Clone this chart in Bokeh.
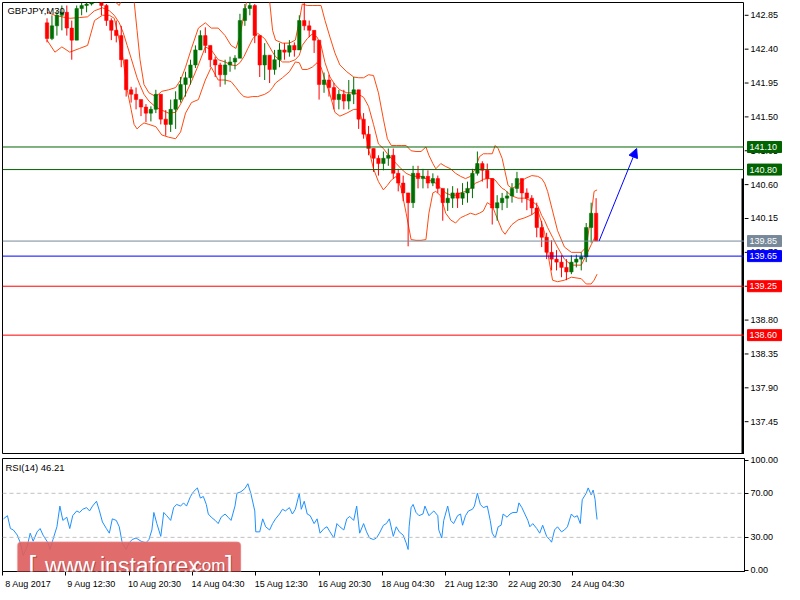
import numpy as np
from bokeh.plotting import figure
from bokeh.layouts import column, row
from bokeh.models import (Range1d, LinearAxis, FixedTicker, NumeralTickFormatter, Span,
                          Label, Arrow, NormalHead, BoxAnnotation, ColumnDataSource)
from bokeh.core.properties import value
from bokeh.embed import file_html
from bokeh.resources import INLINE

# ---------------- data ----------------
symbol_title = "GBPJPY,M30"
rsi_title = "RSI(14) 46.21"

candle_start = 45      # bar index of first visible candle
candle_step = 5        # bars per drawn candle
first_open = 142.75
closes = [142.54, 142.71, 142.85, 142.89, 142.68, 142.52, 142.94, 142.98, 143.00, 143.11,
          143.11, 142.98, 142.78, 142.65, 142.58, 142.26, 141.86, 141.80, 141.73, 141.63,
          141.55, 141.60, 141.80, 141.47, 141.40, 141.60, 141.73, 141.93, 142.02, 142.19,
          142.39, 142.58, 142.45, 142.26, 142.19, 142.06, 142.19, 142.23, 142.28, 142.78,
          142.94, 142.98, 142.58, 142.19, 142.32, 142.13, 142.26, 142.39, 142.36, 142.45,
          142.39, 142.78, 142.71, 142.65, 142.52, 141.93, 141.99, 141.89, 141.73, 141.80,
          141.71, 141.80, 141.86, 141.47, 141.27, 141.08, 140.95, 140.88, 140.95, 140.99,
          140.75, 140.62, 140.49, 140.36, 140.75, 140.68, 140.71, 140.62, 140.68, 140.55,
          140.36, 140.42, 140.49, 140.42, 140.49, 140.55, 140.75, 140.88, 140.79, 140.68,
          140.29, 140.36, 140.42, 140.45, 140.55, 140.68, 140.49, 140.42, 140.29, 140.03,
          139.90, 139.70, 139.61, 139.57, 139.50, 139.44, 139.57, 139.61, 139.64, 140.03,
          140.22, 139.85]
highs = [142.81, 142.85, 142.91, 142.98, 142.98, 142.78, 142.98, 143.02, 143.04, 143.17,
         143.24, 143.11, 143.00, 142.81, 142.78, 142.71, 142.26, 141.90, 141.89, 141.73,
         141.67, 141.64, 141.86, 141.76, 141.59, 141.73, 141.84, 142.03, 142.10, 142.26,
         142.45, 142.65, 142.69, 142.43, 142.30, 142.22, 142.26, 142.30, 142.32, 142.87,
         143.00, 143.07, 143.00, 142.52, 142.48, 142.30, 142.39, 142.48, 142.48, 142.52,
         142.49, 142.85, 143.02, 142.78, 142.65, 142.52, 142.09, 142.06, 141.95, 141.86,
         141.86, 141.99, 142.03, 141.73, 141.55, 141.38, 141.08, 140.99, 141.04, 141.08,
         141.08, 140.81, 140.72, 140.49, 140.85, 140.85, 140.81, 140.79, 140.75, 140.72,
         140.49, 140.55, 140.58, 140.55, 140.62, 140.64, 140.81, 141.04, 140.91, 140.88,
         140.64, 140.46, 140.49, 140.51, 140.62, 140.77, 140.64, 140.55, 140.46, 140.36,
         140.12, 139.96, 139.86, 139.73, 139.66, 139.61, 139.66, 139.67, 139.70, 140.09,
         140.36, 140.42]
lows = [142.49, 142.52, 142.58, 142.65, 142.58, 142.26, 142.52, 142.85, 142.89, 142.98,
        143.04, 142.85, 142.71, 142.52, 142.49, 142.16, 141.77, 141.69, 141.60, 141.51,
        141.43, 141.44, 141.55, 141.40, 141.25, 141.30, 141.34, 141.69, 141.77, 141.93,
        142.15, 142.39, 142.35, 142.16, 142.03, 141.90, 141.93, 142.10, 142.13, 142.28,
        142.71, 142.85, 142.48, 142.03, 141.99, 141.95, 142.06, 142.16, 142.26, 142.30,
        142.30, 142.39, 142.65, 142.56, 142.35, 141.73, 141.82, 141.77, 141.60, 141.60,
        141.60, 141.60, 141.67, 141.34, 141.21, 140.99, 140.77, 140.72, 140.79, 140.85,
        140.68, 140.51, 140.38, 139.78, 140.29, 140.55, 140.55, 140.55, 140.58, 140.49,
        140.12, 140.25, 140.29, 140.29, 140.33, 140.36, 140.42, 140.72, 140.64, 140.55,
        140.07, 140.12, 140.26, 140.29, 140.36, 140.49, 140.36, 140.26, 140.20, 139.90,
        139.77, 139.61, 139.46, 139.46, 139.37, 139.33, 139.41, 139.50, 139.46, 139.57,
        139.83, 139.86]

band_x = [45, 53, 60, 68, 78, 86, 93, 101, 108, 113,
          118, 122, 126, 130, 133, 136, 139, 143, 148, 155,
          161, 168, 175, 180, 185, 191, 198, 205, 211, 218,
          225, 231, 236, 240, 244, 248, 253, 258, 265, 270,
          273, 276, 283, 290, 296, 300, 303, 308, 313, 318,
          322, 326, 331, 336, 341, 348, 355, 360, 365, 370,
          375, 380, 385, 389, 393, 398, 403, 408, 413, 418,
          423, 428, 431, 435, 438, 443, 448, 453, 458, 463,
          468, 473, 478, 482, 486, 490, 495, 498, 501, 505,
          508, 511, 515, 521, 528, 535, 541, 545, 548, 551,
          556, 561, 568, 575, 585, 590, 595, 598, 601]
band_upper = [143.44, 143.44, 143.44, 143.44, 143.44, 143.37, 143.37, 143.30, 143.17, 143.04,
              142.98, 143.11, 143.24, 143.24, 143.04, 142.65, 142.26, 141.93, 141.82, 141.77,
              141.84, 141.86, 141.89, 141.99, 142.16, 142.41, 142.68, 142.75, 142.68, 142.68,
              142.58, 142.45, 142.41, 142.58, 142.85, 143.11, 143.24, 143.24, 143.17, 143.04,
              142.65, 142.52, 142.48, 142.48, 142.52, 142.78, 143.00, 142.98, 142.98, 142.98,
              142.98, 142.78, 142.56, 142.35, 142.19, 142.10, 142.03, 142.02, 142.02, 142.06,
              142.05, 141.82, 141.47, 141.21, 141.12, 141.12, 141.12, 141.12, 141.05, 141.04,
              141.04, 141.10, 140.99, 140.88, 140.81, 140.88, 140.84, 140.81, 140.75, 140.71,
              140.68, 140.71, 140.81, 140.97, 141.01, 141.01, 141.01, 141.12, 141.08, 140.95,
              140.77, 140.59, 140.55, 140.59, 140.68, 140.72, 140.71, 140.68, 140.62, 140.51,
              140.25, 139.99, 139.77, 139.70, 139.70, 139.77, 140.20, 140.51, 140.53]
band_middle = [142.89, 142.85, 142.83, 142.81, 142.82, 142.83, 142.91, 142.95, 142.91, 142.85,
               142.75, 142.62, 142.45, 142.28, 142.15, 142.02, 141.92, 141.80, 141.71, 141.63,
               141.59, 141.55, 141.56, 141.67, 141.80, 141.97, 142.19, 142.43, 142.39, 142.26,
               142.23, 142.19, 142.18, 142.22, 142.30, 142.41, 142.54, 142.61, 142.54, 142.43,
               142.36, 142.30, 142.23, 142.23, 142.26, 142.32, 142.45, 142.54, 142.60, 142.56,
               142.45, 142.22, 142.03, 141.93, 141.86, 141.82, 141.82, 141.80, 141.76, 141.64,
               141.40, 141.14, 141.08, 141.01, 140.95, 140.88, 140.81, 140.75, 140.72, 140.71,
               140.71, 140.68, 140.66, 140.64, 140.62, 140.55, 140.49, 140.46, 140.46, 140.49,
               140.51, 140.55, 140.62, 140.64, 140.67, 140.68, 140.68, 140.66, 140.61, 140.55,
               140.53, 140.49, 140.45, 140.42, 140.42, 140.38, 140.32, 140.19, 140.12, 140.03,
               139.90, 139.77, 139.61, 139.53, 139.53, 139.66, 139.80, 139.88, 139.95]
band_lower = [142.52, 142.36, 142.43, 142.36, 142.41, 142.45, 142.78, 142.85, 142.85, 142.81,
              142.52, 142.26, 141.86, 141.60, 141.40, 141.34, 141.38, 141.42, 141.40, 141.37,
              141.26, 141.23, 141.21, 141.30, 141.55, 141.69, 141.73, 141.99, 142.16, 141.99,
              141.99, 141.97, 141.89, 141.82, 141.77, 141.76, 141.77, 141.77, 141.80, 141.84,
              141.89, 141.95, 142.02, 142.10, 142.23, 142.22, 142.13, 142.13, 142.16, 142.22,
              142.16, 141.99, 141.80, 141.56, 141.51, 141.55, 141.60, 141.60, 141.40, 141.08,
              140.81, 140.64, 140.53, 140.59, 140.66, 140.71, 140.55, 140.22, 139.87, 139.86,
              139.86, 139.87, 140.22, 140.49, 140.51, 140.45, 140.22, 140.13, 140.09, 140.16,
              140.19, 140.22, 140.20, 140.22, 140.25, 140.36, 140.32, 140.22, 140.12, 139.99,
              139.94, 140.00, 140.07, 140.13, 140.16, 140.20, 140.26, 140.09, 139.96, 139.70,
              139.33, 139.31, 139.33, 139.37, 139.35, 139.28, 139.28, 139.33, 139.41]

rsi_x = [1, 5, 8, 11, 15, 18, 21, 25, 28, 31, 35, 38, 41, 46, 48, 51, 55, 58, 61, 65,
         68, 71, 75, 78, 81, 85, 88, 91, 95, 98, 101, 105, 108, 111, 115, 118, 121, 125, 128, 131,
         135, 140, 145, 148, 151, 153, 156, 160, 163, 166, 170, 173, 176, 180, 183, 186, 190, 193, 197, 200,
         203, 206, 208, 211, 215, 218, 221, 225, 228, 231, 235, 237, 241, 245, 248, 251, 255, 256, 260, 263,
         266, 270, 273, 276, 280, 283, 286, 290, 293, 296, 300, 302, 305, 308, 311, 315, 318, 321, 325, 328,
         331, 335, 338, 341, 345, 348, 351, 355, 358, 361, 365, 368, 371, 375, 378, 381, 385, 388, 391, 395,
         398, 401, 405, 408, 410, 411, 413, 415, 418, 421, 425, 427, 431, 436, 440, 441, 444, 446, 450, 453,
         456, 460, 463, 465, 468, 471, 475, 477, 480, 483, 486, 490, 493, 495, 498, 501, 504, 506, 510, 513,
         516, 520, 522, 525, 528, 531, 533, 536, 540, 543, 546, 550, 553, 555, 558, 561, 565, 568, 571, 575,
         578, 581, 584, 586, 590, 592, 595, 597, 599, 600, 601]
rsi_values = [46.8, 49.7, 38.0, 36.7, 32.0, 25.0, 13.5, 22.0, 33.8, 26.5, 35.0, 38.0, 32.0, 25.0, 19.0, 28.0, 39.6, 58.4, 45.4, 48.3,
              38.0, 49.7, 54.0, 52.6, 55.5, 57.0, 54.0, 58.4, 62.8, 54.0, 44.0, 38.0, 33.8, 46.8, 45.4, 39.6, 25.0, 19.0, 25.0, 28.0,
              29.4, 26.5, 25.0, 28.0, 36.7, 52.6, 42.5, 30.9, 52.6, 49.7, 45.4, 57.0, 59.9, 58.4, 61.3, 58.4, 67.1, 71.4, 74.9, 65.7,
              67.1, 59.9, 51.2, 48.3, 45.4, 42.5, 48.3, 51.2, 48.3, 45.4, 58.4, 70.0, 71.4, 74.3, 78.7, 70.0, 54.0, 35.0, 35.0, 46.8,
              39.6, 36.7, 42.5, 46.8, 51.2, 55.5, 54.0, 57.0, 51.2, 55.5, 70.0, 55.5, 62.8, 51.2, 49.7, 42.5, 46.8, 33.8, 38.0, 39.6,
              35.0, 29.4, 42.5, 39.6, 36.7, 46.8, 49.0, 45.4, 58.4, 33.8, 42.5, 35.0, 29.4, 28.0, 29.4, 33.8, 41.0, 42.5, 46.8, 30.9,
              39.6, 35.0, 32.0, 25.0, 19.0, 39.6, 57.0, 59.9, 52.6, 49.7, 51.2, 58.4, 49.7, 54.0, 49.7, 36.7, 29.4, 45.4, 58.4, 45.4,
              42.5, 49.7, 51.2, 41.0, 49.7, 54.0, 55.5, 58.4, 70.0, 59.9, 57.0, 58.4, 45.4, 33.8, 29.4, 39.6, 41.0, 51.2, 48.3, 51.2,
              52.6, 52.6, 61.3, 57.0, 51.2, 45.4, 39.6, 42.5, 38.0, 33.8, 41.0, 30.9, 28.0, 25.6, 36.7, 39.6, 35.0, 36.7, 39.6, 51.2,
              48.3, 49.7, 42.5, 64.2, 70.0, 74.9, 68.6, 72.9, 64.2, 54.0, 46.21]

price_ticks = [137.45, 137.90, 138.35, 138.80, 139.25, 139.70, 140.15, 140.60,
               141.05, 141.50, 141.95, 142.40, 142.85]
rsi_ticks = [0, 30, 70, 100]
rsi_levels = [30, 70]
time_ticks = [0, 64, 128, 192, 256, 320, 384, 448, 512, 576]
time_labels = ["8 Aug 2017", "9 Aug 12:30", "10 Aug 20:30", "14 Aug 04:30", "15 Aug 12:30",
               "16 Aug 20:30", "18 Aug 04:30", "21 Aug 12:30", "22 Aug 20:30", "24 Aug 04:30"]
levels = [141.10, 140.80, 139.85, 139.65, 139.25, 138.60]
level_colors = ["#006400", "#006400", "#778899", "#0000FF", "#FF0000", "#FF0000"]
target_price = 141.08
scroll_bar_top = 140.68

# ---------------- styling ----------------
FONT = "Liberation Sans"
FS = "9px"
BULL = "#006E00"
BEAR = "#FF0000"
BAND = "#FF4A10"
RSI_COLOR = "#1E90FF"
X_END = 750
FRAME_W = 742
SIDE_W = 40
LEFT = 2

closes_a = np.array(closes)
opens_a = np.concatenate([[first_open], closes_a[:-1]])
cx = candle_start + candle_step * np.arange(len(closes_a))
hi = np.maximum(np.array(highs), np.maximum(opens_a, closes_a))
lo = np.minimum(np.array(lows), np.minimum(opens_a, closes_a))
colors = np.where(closes_a >= opens_a, BULL, BEAR)
src = ColumnDataSource(dict(x=cx, h=hi, l=lo,
                            top=np.maximum(opens_a, closes_a),
                            bottom=np.minimum(opens_a, closes_a),
                            color=colors))

x_range = Range1d(0, X_END)
y_range = Range1d(137.014, 143.02)

common = dict(output_backend="svg", toolbar_location=None,
              background_fill_color="white", border_fill_color="white")

p = figure(frame_width=FRAME_W, frame_height=452, x_range=x_range, y_range=y_range,
           x_axis_location=None, y_axis_location=None,
           min_border_left=LEFT, min_border_top=2, min_border_bottom=0, min_border_right=0,
           outline_line_color="black", outline_line_width=1, **common)
p.grid.visible = False

# bands
p.line(band_x, band_upper, line_color=BAND, line_width=1)
p.line(band_x, band_middle, line_color=BAND, line_width=1)
p.line(band_x, band_lower, line_color=BAND, line_width=1)

# candles
p.segment(x0="x", y0="h", x1="x", y1="l", line_color="color", line_width=1, source=src)
p.vbar(x="x", width=3.5, top="top", bottom="bottom", fill_color="color", line_color="color",
       line_width=0.5, source=src)

# horizontal levels
for lvl, col in zip(levels, level_colors):
    p.add_layout(Span(location=lvl, dimension="width", line_color=col, line_width=1))

# scroll marker at right edge
p.segment(x0=[X_END - 1.5], y0=[scroll_bar_top], x1=[X_END - 1.5], y1=[136.9],
          line_color="black", line_width=3)

# forecast arrow
last_x = cx[-1]
p.add_layout(Arrow(end=NormalHead(size=9, fill_color="#0000FF", line_color="#0000FF", line_width=1),
                   x_start=last_x + 3, y_start=closes[-1], x_end=last_x + 41, y_end=target_price,
                   line_color="#0000FF", line_width=1))

p.add_layout(Label(x=5, y=142.99, text=symbol_title, text_font=FONT, text_font_size="9.5px",
                   text_color="black", text_baseline="top", text_align="left"))

# ---------------- price scale column (ticks, labels, level tags) ----------------
ps = figure(frame_width=SIDE_W, frame_height=452, x_range=Range1d(0, SIDE_W), y_range=y_range,
            x_axis_location=None, y_axis_location=None,
            min_border_left=0, min_border_top=2, min_border_bottom=0, min_border_right=0,
            outline_line_color=None, **common)
ps.grid.visible = False
ps.segment(x0=0, y0=price_ticks, x1=4, y1=price_ticks, line_color="black", line_width=1)
ps.text(x=6, y=price_ticks, text=[f"{t:.2f}" for t in price_ticks], text_font=value(FONT),
        text_font_size=value(FS), text_baseline="middle", text_align="left", text_color="black")
ps.rect(x=20, y=levels, width=34, height=11, height_units="screen",
        fill_color=level_colors, line_color=level_colors)
ps.text(x=5, y=levels, text=[f"{l:.2f}" for l in levels], text_font=value(FONT),
        text_font_size=value(FS), text_baseline="middle", text_align="left", text_color="white")

# ---------------- RSI panel ----------------
p2 = figure(frame_width=FRAME_W, frame_height=113, x_range=x_range, y_range=Range1d(-1, 101.6),
            x_axis_location=None, y_axis_location="right",
            min_border_left=LEFT, min_border_top=4, min_border_bottom=0, min_border_right=SIDE_W,
            outline_line_color="black", outline_line_width=1, **common)
p2.grid.visible = False

ay = p2.yaxis[0]
ay.ticker = FixedTicker(ticks=rsi_ticks)
ay.formatter = NumeralTickFormatter(format="0.00")
ay.major_tick_out = 4
ay.major_tick_in = 0
ay.minor_tick_line_color = None
ay.major_label_text_font = FONT
ay.major_label_text_font_size = FS
ay.major_label_text_color = "black"
ay.major_label_standoff = 2
ay.axis_line_color = "black"

label_pos = [t + 26 for t in time_ticks]
xa = LinearAxis(ticker=FixedTicker(ticks=label_pos, minor_ticks=time_ticks),
                major_label_overrides={lp: lab for lp, lab in zip(label_pos, time_labels)},
                major_tick_line_color=None, major_tick_out=0, major_tick_in=0,
                minor_tick_line_color="black", minor_tick_out=4, minor_tick_in=0,
                major_label_standoff=3, major_label_text_font=FONT,
                major_label_text_font_size=FS, major_label_text_color="black",
                axis_line_color="black")
p2.add_layout(xa, "below")

for lv in rsi_levels:
    p2.add_layout(Span(location=lv, dimension="width", line_color="#C0C0C0",
                       line_dash="4 3", line_width=1))

p2.line(rsi_x, rsi_values, line_color=RSI_COLOR, line_width=1)

p2.add_layout(Label(x=3, y=98.5, text=rsi_title, text_font=FONT, text_font_size="9.5px",
                    text_color="black", text_baseline="top", text_align="left"))

# watermark
p2.add_layout(BoxAnnotation(left=15, right=241, bottom=-4.5, top=25.9,
                            fill_color="#DE5F5F", fill_alpha=0.92,
                            line_color="#F2B8B8", line_width=1.5, border_radius=4))
for txt, xx, size in [("[", 26, "28px"), ("www.instaforex", 43, "23px"),
                      (".com", 188, "17px"), ("]", 225, "28px")]:
    p2.add_layout(Label(x=xx + 1, y=3.2, text=txt, text_color="#8B2E2E", text_alpha=0.55,
                        text_font=FONT, text_font_size=size, text_baseline="alphabetic"))
    p2.add_layout(Label(x=xx, y=4.2, text=txt, text_color="white",
                        text_font=FONT, text_font_size=size, text_baseline="alphabetic"))

layout = column(row(p, ps, spacing=0), p2, spacing=0)
open("out.html", "w").write(file_html(layout, INLINE))
